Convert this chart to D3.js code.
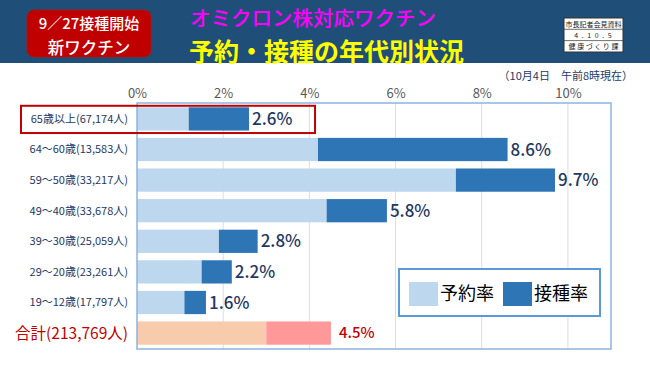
<!DOCTYPE html>
<html>
<head>
<meta charset="utf-8">
<script src="https://cdn.jsdelivr.net/npm/d3@7"></script>
<style>
  body { margin: 0; background: #fff; }
  svg { display: block; font-family: "Noto Sans CJK JP", "Noto Sans", sans-serif; }
</style>
</head>
<body>
<div id="chart"></div>
<script>
const categories = [
  "65歳以上(67,174人)",
  "64～60歳(13,583人)",
  "59～50歳(33,217人)",
  "49～40歳(33,678人)",
  "39～30歳(25,059人)",
  "29～20歳(23,261人)",
  "19～12歳(17,797人)",
  "合計(213,769人)"
];
// 予約率 segment and 接種率 segment (%), stacked
const reserveRate = [1.2, 4.2, 7.4, 4.4, 1.9, 1.5, 1.1, 3.0];
const vaccineRate = [1.4, 4.4, 2.3, 1.4, 0.9, 0.7, 0.5, 1.5];
const totalLabels = ["2.6%", "8.6%", "9.7%", "5.8%", "2.8%", "2.2%", "1.6%", "4.5%"];
const xTicks = [0, 2, 4, 6, 8, 10];
const legendLabels = ["予約率", "接種率"];

const W = 650, H = 365;
const svg = d3.select("#chart").append("svg")
  .attr("width", W)
  .attr("height", H);

// ---- header ----
svg.append("rect")
  .attr("x", 0).attr("y", 0)
  .attr("width", W).attr("height", 63)
  .attr("fill", "#1F4E79");

svg.append("rect")
  .attr("x", 27).attr("y", 10)
  .attr("width", 124).attr("height", 47)
  .attr("rx", 7)
  .attr("fill", "#C00000")
  .attr("stroke", "#9E1A1A");

svg.append("text")
  .attr("x", 89).attr("y", 29)
  .attr("text-anchor", "middle")
  .attr("fill", "#fff")
  .style("font-size", "15px")
  .style("font-weight", "500")
  .text("9／27接種開始");

svg.append("text")
  .attr("x", 89).attr("y", 53.5)
  .attr("text-anchor", "middle")
  .attr("fill", "#fff")
  .style("font-size", "16.5px")
  .style("font-weight", "500")
  .text("新ワクチン");

svg.append("text")
  .attr("x", 190).attr("y", 26)
  .attr("fill", "#FF00FF")
  .style("font-size", "20.5px")
  .style("font-weight", "500")
  .text("オミクロン株対応ワクチン");

svg.append("text")
  .attr("x", 189).attr("y", 61)
  .attr("fill", "#FFFF00")
  .style("font-size", "25px")
  .style("font-weight", "700")
  .text("予約・接種の年代別状況");

// stamp
const stamp = svg.append("g").attr("transform", "translate(564,18)");
stamp.append("rect")
  .attr("width", 59).attr("height", 34)
  .attr("fill", "#fff")
  .attr("stroke", "#333");
[11.3, 22.6].forEach(yy => {
  stamp.append("line")
    .attr("x1", 0).attr("x2", 59)
    .attr("y1", yy).attr("y2", yy)
    .attr("stroke", "#333")
    .attr("stroke-width", 0.7);
});
["市長記者会見資料", "4 . 1 0 . 5", "健 康 づ く り 課"].forEach((t, i) => {
  stamp.append("text")
    .attr("x", 29.5).attr("y", 8.6 + i * 11.3)
    .attr("text-anchor", "middle")
    .attr("fill", "#222")
    .style("font-size", "7px")
    .style("letter-spacing", i === 1 ? "1px" : "0px")
    .text(t);
});

// date note
svg.append("text")
  .attr("x", 633).attr("y", 80)
  .attr("text-anchor", "end")
  .attr("fill", "#1F3864")
  .style("font-size", "11px")
  .text("（10月4日　午前8時現在）");

// ---- chart ----
const plot = { left: 137, right: 611, top: 103, bottom: 349 };

const x = d3.scaleLinear()
  .domain([0, 11])
  .range([plot.left, plot.right]);

const y = d3.scaleBand()
  .domain(categories)
  .range([plot.top, plot.bottom])
  .paddingInner(0.24)
  .paddingOuter(0.14);

// grid
svg.append("g")
  .selectAll("line")
  .data(xTicks.filter(d => d > 0))
  .join("line")
  .attr("x1", d => x(d)).attr("x2", d => x(d))
  .attr("y1", plot.top).attr("y2", plot.bottom)
  .attr("stroke", "#DDDDDD")
  .attr("stroke-width", 1);

// tick labels on top
svg.append("g")
  .attr("transform", `translate(0,${plot.top - 5})`)
  .call(d3.axisTop(x).tickValues(xTicks).tickFormat(d => d + "%").tickSize(0).tickPadding(0))
  .call(g => g.select(".domain").remove())
  .selectAll("text")
  .attr("fill", "#595959")
  .style("font-size", "13px")
  .style("font-family", "\"Noto Sans CJK JP\", sans-serif");

const isTotal = (i) => i === categories.length - 1;

// bars
const rows = svg.append("g")
  .selectAll("g")
  .data(categories.map((c, i) => ({ c, i, r: reserveRate[i], v: vaccineRate[i] })))
  .join("g");

rows.append("rect")
  .attr("x", x(0))
  .attr("y", d => y(d.c))
  .attr("width", d => x(d.r) - x(0))
  .attr("height", y.bandwidth())
  .attr("fill", d => isTotal(d.i) ? "#F8CBAD" : "#BDD7EE");

rows.append("rect")
  .attr("x", d => x(d.r))
  .attr("y", d => y(d.c))
  .attr("width", d => x(d.r + d.v) - x(d.r))
  .attr("height", y.bandwidth())
  .attr("fill", d => isTotal(d.i) ? "#FF9999" : "#2E75B6");

rows.append("text")
  .attr("x", d => x(d.r + d.v) + (isTotal(d.i) ? 8 : 3))
  .attr("y", d => y(d.c) + y.bandwidth() / 2)
  .attr("dy", "0.36em")
  .attr("fill", d => isTotal(d.i) ? "#C00000" : "#1F3864")
  .style("font-size", d => isTotal(d.i) ? "15px" : "17px")
  .style("font-weight", "500")
  .text(d => totalLabels[d.i]);

// category labels
rows.append("text")
  .attr("x", plot.left - 9)
  .attr("y", d => y(d.c) + y.bandwidth() / 2)
  .attr("dy", "0.36em")
  .attr("text-anchor", "end")
  .attr("fill", d => isTotal(d.i) ? "#C00000" : "#1F3864")
  .style("font-size", d => isTotal(d.i) ? "15.5px" : "11px")
  .text(d => d.c);

// plot frame
svg.append("rect")
  .attr("x", plot.left).attr("y", plot.top)
  .attr("width", plot.right - plot.left)
  .attr("height", plot.bottom - plot.top)
  .attr("fill", "none")
  .attr("stroke", "#8DB4E2")
  .attr("stroke-width", 1.5);

// highlight first row
svg.append("rect")
  .attr("x", 21)
  .attr("y", y(categories[0]) - 1.5)
  .attr("width", x(reserveRate[0] + vaccineRate[0]) + 66 - 21)
  .attr("height", y.bandwidth() + 4)
  .attr("fill", "none")
  .attr("stroke", "#C00000")
  .attr("stroke-width", 2);

// legend
const legend = svg.append("g").attr("transform", "translate(399,269)");
legend.append("rect")
  .attr("width", 201).attr("height", 47)
  .attr("fill", "#fff")
  .attr("stroke", "#5B9BD5")
  .attr("stroke-width", 2);

const legendColors = ["#BDD7EE", "#2E75B6"];
legendLabels.forEach((lab, i) => {
  const g = legend.append("g").attr("transform", `translate(${10 + i * 94},13)`);
  g.append("rect")
    .attr("width", 29).attr("height", 24)
    .attr("fill", legendColors[i]);
  g.append("text")
    .attr("x", 31).attr("y", 12)
    .attr("dy", "0.36em")
    .attr("fill", "#000")
    .style("font-size", "18px")
    .text(lab);
});
</script>
</body>
</html>
